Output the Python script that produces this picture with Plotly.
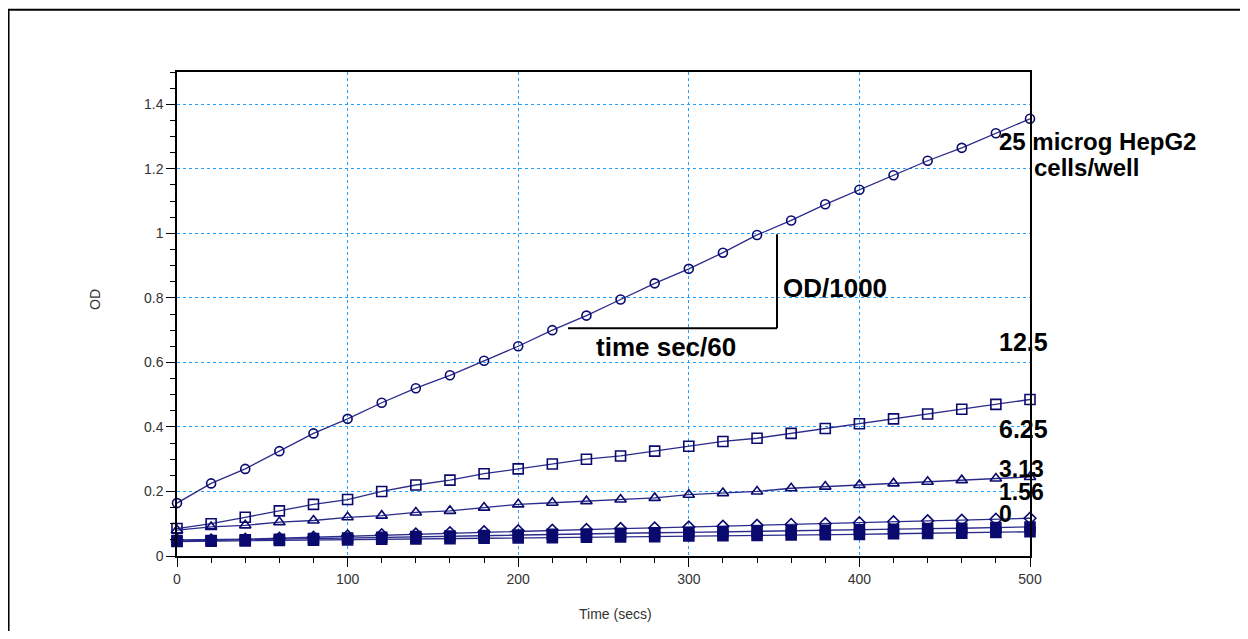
import plotly.graph_objects as go

time_s = [0, 20, 40, 60, 80, 100, 120, 140, 160, 180, 200, 220, 240, 260, 280,
          300, 320, 340, 360, 380, 400, 420, 440, 460, 480, 500]

od_25 = [0.164, 0.225, 0.27, 0.325, 0.38, 0.425, 0.475, 0.52, 0.56, 0.605, 0.65,
         0.70, 0.745, 0.795, 0.845, 0.89, 0.94, 0.995, 1.04, 1.09, 1.135, 1.18,
         1.225, 1.265, 1.31, 1.355]
od_12_5 = [0.085, 0.10, 0.12, 0.14, 0.16, 0.175, 0.20, 0.22, 0.235, 0.255, 0.27,
           0.285, 0.30, 0.31, 0.325, 0.34, 0.355, 0.365, 0.38, 0.395, 0.41, 0.425,
           0.44, 0.455, 0.47, 0.485]
od_6_25 = [0.08, 0.09, 0.095, 0.105, 0.11, 0.12, 0.125, 0.135, 0.14, 0.15, 0.16,
           0.165, 0.17, 0.175, 0.18, 0.19, 0.195, 0.20, 0.21, 0.215, 0.22, 0.225,
           0.23, 0.235, 0.24, 0.245]
od_3_13 = [0.05, 0.05, 0.052, 0.055, 0.058, 0.062, 0.066, 0.068, 0.072, 0.075, 0.078,
           0.08, 0.082, 0.085, 0.087, 0.09, 0.092, 0.095, 0.098, 0.10, 0.103, 0.106,
           0.109, 0.111, 0.114, 0.117]
od_1_56 = [0.047, 0.048, 0.05, 0.052, 0.054, 0.056, 0.058, 0.06, 0.062, 0.063, 0.065,
           0.067, 0.068, 0.07, 0.072, 0.073, 0.075, 0.077, 0.078, 0.08, 0.081, 0.083,
           0.085, 0.086, 0.088, 0.09]
od_0 = [0.045, 0.046, 0.047, 0.048, 0.049, 0.05, 0.052, 0.053, 0.054, 0.055, 0.056,
        0.057, 0.058, 0.059, 0.06, 0.062, 0.063, 0.064, 0.065, 0.066, 0.067, 0.069,
        0.07, 0.071, 0.073, 0.075]

series_names = ["25", "12.5", "6.25", "3.13", "1.56", "0"]
series_values = [od_25, od_12_5, od_6_25, od_3_13, od_1_56, od_0]
series_symbols = ["circle-open", "square-open", "triangle-up-open", "diamond-open",
                  "square", "square"]
series_sizes = [9, 10, 10, 9, 10, 10]

LINE = "#2b2b8c"
MARK = "#0a0a6e"

fig = go.Figure()
for name, vals, sym, sz in zip(series_names, series_values, series_symbols, series_sizes):
    fig.add_trace(go.Scatter(
        x=time_s, y=vals, name=name, mode="lines+markers",
        line=dict(color=LINE, width=1.3),
        marker=dict(symbol=sym, size=sz, color=MARK,
                    line=dict(color=MARK, width=1.6)),
        cliponaxis=False, showlegend=False,
    ))

FAM = "Liberation Sans, Arial, sans-serif"
labels = [
    ("25 microg HepG2", 0.9625, 0.8554, 24),
    ("cells/well", 1.0035, 0.8017, 24),
    ("12.5", 0.9625, 0.4421, 25),
    ("6.25", 0.9625, 0.2624, 25),
    ("3.13", 0.9625, 0.1790, 23),
    ("1.56", 0.9625, 0.1330, 23),
    ("0", 0.9625, 0.0870, 23),
    ("OD/1000", 0.7093, 0.5537, 26),
    ("time sec/60", 0.4900, 0.4318, 26),
]
annotations = []
for txt, xx, yy, fs in labels:
    annotations.append(dict(text="<b>%s</b>" % txt, x=xx, y=yy, xref="paper",
                            yref="paper", xanchor="left", yanchor="middle",
                            showarrow=False, borderpad=0,
                            font=dict(family=FAM, size=fs, color="black")))

title_font = dict(family=FAM, size=14, color="#333")
annotations.append(dict(text="OD", x=-0.0961, y=0.529, xref="paper", yref="paper",
                        textangle=-90, showarrow=False, font=title_font,
                        xanchor="center", yanchor="middle"))
annotations.append(dict(text="Time (secs)", x=0.5135, y=-0.1198, xref="paper",
                        yref="paper", showarrow=False, font=title_font,
                        xanchor="center", yanchor="middle"))

shapes = [
    dict(type="line", xref="x", yref="y", x0=229.2, x1=351.7, y0=0.706, y1=0.706,
         line=dict(color="black", width=2)),
    dict(type="line", xref="x", yref="y", x0=351.7, x1=351.7, y0=0.706, y1=0.997,
         line=dict(color="black", width=2)),
    dict(type="path", xref="paper", yref="paper",
         path="M -0.1975 -0.3 L -0.1975 1.1285 L 1.4 1.1285",
         line=dict(color="black", width=2)),
]

tick_font = dict(family=FAM, size=14, color="#333")
axis_common = dict(
    showline=True, linecolor="black", linewidth=1.5, mirror=True,
    ticks="outside", ticklen=9, tickcolor="black", tickwidth=1.2,
    showgrid=True, gridcolor="#22a0ff", griddash="dot", gridwidth=1.1,
    zeroline=False, tickfont=tick_font,
)

fig.update_layout(
    width=1232, height=623,
    margin=dict(l=169, r=210, t=64, b=75),
    paper_bgcolor="white", plot_bgcolor="white",
    xaxis=dict(range=[0, 500], dtick=100, tick0=0,
               minor=dict(dtick=20, ticks="outside", ticklen=5, tickcolor="black",
                          showgrid=False),
               **axis_common),
    yaxis=dict(range=[0, 1.5], dtick=0.2, tick0=0,
               minor=dict(dtick=0.05, ticks="outside", ticklen=5, tickcolor="black",
                          showgrid=False),
               **axis_common),
    annotations=annotations,
    shapes=shapes,
)

fig.write_html("out.html")
